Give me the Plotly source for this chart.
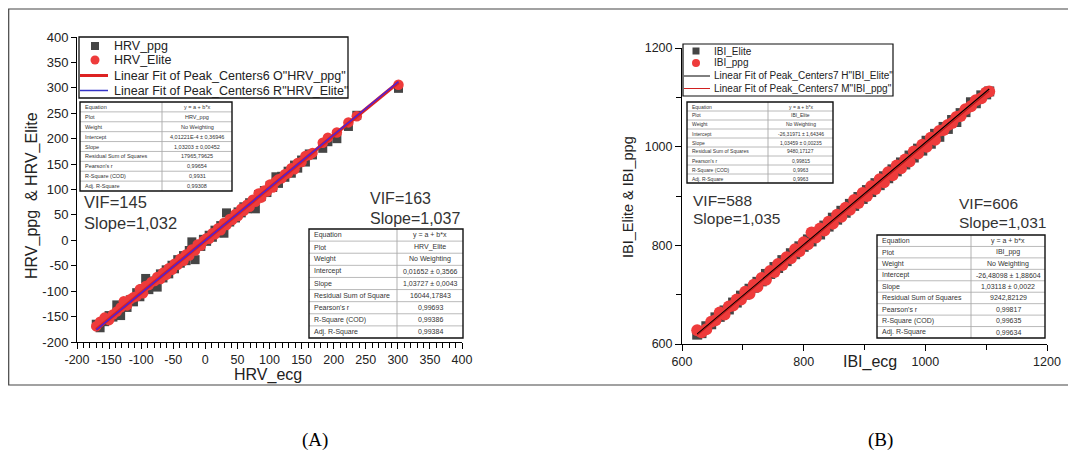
import plotly.graph_objects as go

# The page body has an 8px default margin; the figure is sized to fill the rest of the window
OFF = 8
W, H = 1076 - OFF, 455 - OFF
FONT = "Liberation Sans, Arial, sans-serif"

# ---------------- Panel A data (HRV) ----------------
hrv_ecg = [-170, -164, -157, -150, -144, -138, -132, -127, -122, -117, -112, -107, -102, -97, -93,
           -88, -84, -79, -75, -70, -66, -61, -57, -52, -48, -43, -39, -34, -30, -25, -21, -16,
           -12, -7, -3, 2, 6, 11, 15, 20, 24, 29, 33, 38, 42, 47, 51, 56, 60, 65, 69, 74, 78,
           83, 87, 92, 96, 101, 105, 110, 114, 119, 124, 129, 134, 139, 144, 150, 156, 162, 167,
           183, 191, 205, 223, 236, 301]
hrv_ppg = [-165, -172, -160, -148, -151, -127, -148, -125, -132, -117, -121, -103, -111, -95, -75,
           -97, -80, -86, -92, -66, -74, -58, -66, -49, -56, -38, -45, -30, -40, -20, -3, -38,
           -10, -12, 2, -2, 10, 6, 20, 15, 29, 14, 54, 36, 48, 44, 56, 54, 66, 62, 74, 72, 62,
           90, 86, 98, 94, 108, 104, 125, 112, 126, 124, 136, 132, 148, 142, 158, 154, 170, 168,
           181, 194, 200, 224, 246, 299]
hrv_elite = [-169, -160, -152, -157, -146, -140, -132, -120, -128, -116, -112, -110, -96, -104, -90,
             -88, -82, -80, -72, -76, -64, -68, -55, -58, -46, -48, -36, -40, -28, -30, -18, -20,
             -8, -10, -1, 4, 3, 14, 12, 24, 20, 34, 30, 42, 40, 52, 48, 62, 58, 70, 66, 80, 76,
             92, 84, 98, 96, 110, 104, 116, 120, 122, 130, 132, 142, 140, 152, 154, 166, 168, 172,
             192, 202, 212, 232, 244, 306]
hrv_fit_ppg = (4.01221e-4, 1.03203)      # intercept, slope
hrv_fit_elite = (0.01652, 1.03727)
hrv_ticks = [-200, -150, -100, -50, 0, 50, 100, 150, 200, 250, 300, 350, 400]

# ---------------- Panel B data (IBI) ----------------
ibi_ecg = [625, 632, 640, 648, 655, 662, 670, 677, 684, 690, 697, 704, 711, 718, 724, 731, 738,
           745, 752, 758, 765, 772, 779, 786, 793, 800, 807, 813, 820, 827, 834, 841, 848, 855,
           862, 869, 876, 883, 890, 897, 904, 911, 918, 925, 932, 939, 946, 953, 960, 967, 974,
           981, 988, 995, 1002, 1009, 1016, 1023, 1030, 1037, 1044, 1051, 1058, 1066, 1075, 1083,
           1092, 1100, 1105]
ibi_elite = [619, 622, 636, 640, 654, 655, 668, 670, 684, 684, 698, 700, 712, 714, 726, 727, 742,
             742, 756, 754, 770, 768, 784, 782, 798, 797, 812, 808, 826, 822, 840, 838, 856, 852,
             870, 866, 884, 880, 898, 894, 912, 908, 926, 922, 940, 936, 954, 950, 968, 964, 982,
             978, 996, 992, 1012, 1006, 1026, 1020, 1040, 1036, 1054, 1050, 1068, 1070, 1090, 1088,
             1104, 1106, 1112]
ibi_ppg = [628, 624, 630, 645, 648, 664, 660, 676, 678, 690, 690, 706, 702, 720, 716, 734, 730,
           748, 746, 762, 760, 776, 774, 792, 788, 806, 802, 826, 816, 834, 830, 848, 844, 862,
           858, 876, 872, 892, 886, 906, 900, 920, 914, 934, 928, 948, 942, 962, 956, 974, 970,
           990, 986, 1004, 1000, 1018, 1014, 1032, 1034, 1044, 1048, 1060, 1062, 1076, 1082, 1094,
           1098, 1110, 1112]
ibi_fit_elite = (-26.31971, 1.03459)
ibi_fit_ppg = (-26.48098, 1.03118)
ibi_ticks = [600, 800, 1000, 1200]

# ---------------- Fit statistics tables ----------------
tab_keys = ["Equation", "Plot", "Weight", "Intercept", "Slope", "Residual Sum of Squares",
            "Pearson's r", "R-Square (COD)", "Adj. R-Square"]
tab_keys_b = ["Equation", "Plot", "Weight", "Intercept", "Slope", "Residual Sum of Square",
              "Pearson's r", "R-Square (COD)", "Adj. R-Square"]
tab_hrv_ppg = ["y = a + b*x", "HRV_ppg", "No Weighting", "4,01221E-4 ± 0,36946",
               "1,03203 ± 0,00452", "17965,79625", "0,99654", "0,9931", "0,99308"]
tab_hrv_elite = ["y = a + b*x", "HRV_Elite", "No Weighting", "0,01652 ± 0,3566",
                 "1,03727 ± 0,0043", "16044,17843", "0,99693", "0,99386", "0,99384"]
tab_ibi_elite = ["y = a + b*x", "IBI_Elite", "No Weighting", "-26,31971 ± 1,64346",
                 "1,03459 ± 0,00235", "9480,17127", "0,99815", "0,9963", "0,9963"]
tab_ibi_ppg = ["y = a + b*x", "IBI_ppg", "No Weighting", "-26,48098 ± 1,88604",
               "1,03118 ± 0,0022", "9242,82129", "0,99817", "0,99635", "0,99634"]

GREY = "#454545"
RED_PT = "#ee3b3b"
RED_LN = "#dd2222"
BLUE_LN = "#5322d0"


def px(x):
    return (x - OFF) / W


def py(y):
    return 1 - (y - OFF) / H


fig = go.Figure()

# Panel A traces
fig.add_trace(go.Scatter(x=hrv_ecg, y=hrv_ppg, mode="markers", name="HRV_ppg",
                         marker=dict(symbol="square", size=9, color=GREY, line=dict(width=0)),
                         xaxis="x", yaxis="y"))
fig.add_trace(go.Scatter(x=hrv_ecg, y=hrv_elite, mode="markers", name="HRV_Elite",
                         marker=dict(symbol="circle", size=10.5, color=RED_PT, line=dict(width=0)),
                         xaxis="x", yaxis="y"))
xa = [min(hrv_ecg), max(hrv_ecg)]
fig.add_trace(go.Scatter(x=xa, y=[hrv_fit_ppg[0] + hrv_fit_ppg[1] * v for v in xa], mode="lines",
                         line=dict(color=RED_LN, width=3.5), xaxis="x", yaxis="y",
                         name='Linear Fit of Peak_Centers6 O"HRV_ppg"'))
fig.add_trace(go.Scatter(x=xa, y=[hrv_fit_elite[0] + hrv_fit_elite[1] * v for v in xa], mode="lines",
                         line=dict(color=BLUE_LN, width=1.6), xaxis="x", yaxis="y",
                         name='Linear Fit of Peak_Centers6 R"HRV_Elite"'))

# Panel B traces
fig.add_trace(go.Scatter(x=ibi_ecg, y=ibi_elite, mode="markers", name="IBI_Elite",
                         marker=dict(symbol="square", size=10, color=GREY, line=dict(width=0)),
                         xaxis="x2", yaxis="y2"))
fig.add_trace(go.Scatter(x=ibi_ecg, y=ibi_ppg, mode="markers", name="IBI_ppg",
                         marker=dict(symbol="circle", size=12, color=RED_PT, line=dict(width=0)),
                         xaxis="x2", yaxis="y2"))
xb = [min(ibi_ecg), max(ibi_ecg)]
fig.add_trace(go.Scatter(x=xb, y=[ibi_fit_elite[0] + ibi_fit_elite[1] * v for v in xb], mode="lines",
                         line=dict(color="black", width=1.2), xaxis="x2", yaxis="y2",
                         name='Linear Fit of Peak_Centers7 H"IBI_Elite"'))
fig.add_trace(go.Scatter(x=xb, y=[ibi_fit_ppg[0] + ibi_fit_ppg[1] * v for v in xb], mode="lines",
                         line=dict(color="#b81c1c", width=1.2), xaxis="x2", yaxis="y2",
                         name='Linear Fit of Peak_Centers7 M"IBI_ppg"'))

shapes = []
annots = []


def line(x0, y0, x1, y1, color, width):
    shapes.append(dict(type="line", xref="paper", yref="paper", x0=px(x0), y0=py(y0),
                       x1=px(x1), y1=py(y1), line=dict(color=color, width=width)))


def rect(x0, y0, x1, y1, color, width, fill="rgba(0,0,0,0)"):
    shapes.append(dict(type="rect", xref="paper", yref="paper", x0=px(x0), y0=py(y0),
                       x1=px(x1), y1=py(y1), line=dict(color=color, width=width), fillcolor=fill))


def text(x, y, s, size, xanchor="left", color="#222", family=FONT, angle=0):
    annots.append(dict(xref="paper", yref="paper", x=px(x), y=py(y), text=s, showarrow=False,
                       xanchor=xanchor, yanchor="middle", textangle=angle,
                       font=dict(family=family, size=size, color=color)))


def table(x0, y0, x1, y1, xs, keys, vals, fs):
    n = len(keys)
    rh = (y1 - y0) / n
    rect(x0, y0, x1, y1, "rgba(0,0,0,0)", 0, fill="white")
    for i in range(1, n):
        line(x0, y0 + i * rh, x1, y0 + i * rh, "#a8a8a8", 0.8)
    line(xs, y0, xs, y1, "#a8a8a8", 0.9)
    rect(x0, y0, x1, y1, "#111", 1.4)
    for i, (k, v) in enumerate(zip(keys, vals)):
        yc = y0 + (i + 0.5) * rh
        text(x0 + 2.5, yc, k, fs, "left", "#333")
        text((xs + x1) / 2, yc, v, fs, "center", "#333")


# outer frame
rect(8.7, 9, 1070, 385, "#444", 1.2)

# ---------------- legends (drawn) ----------------
rect(79, 37, 348, 98, "#111", 1.3, fill="white")
shapes.append(dict(type="rect", xref="paper", yref="paper", x0=px(91), x1=px(99), y0=py(42), y1=py(50),
                   fillcolor=GREY, line=dict(width=0)))
shapes.append(dict(type="circle", xref="paper", yref="paper", x0=px(90.5), x1=px(99.5), y0=py(55.5),
                   y1=py(64.5), fillcolor=RED_PT, line=dict(width=0)))
line(80, 75.5, 108, 75.5, RED_LN, 3)
line(80, 90.5, 108, 90.5, "#3535c8", 1.5)
text(112, 46, "HRV_ppg", 12.5)
text(112, 60, "HRV_Elite", 12.5)
text(112, 75.5, 'Linear Fit of Peak_Centers6 O"HRV_ppg"', 12.5)
text(112, 90.5, 'Linear Fit of Peak_Centers6 R"HRV_Elite"', 12.5)

rect(683, 44, 893, 96, "#111", 1.2, fill="white")
shapes.append(dict(type="rect", xref="paper", yref="paper", x0=px(692.5), x1=px(699.5), y0=py(47.5),
                   y1=py(54.5), fillcolor=GREY, line=dict(width=0)))
shapes.append(dict(type="circle", xref="paper", yref="paper", x0=px(692), x1=px(700), y0=py(59),
                   y1=py(67), fillcolor=RED_PT, line=dict(width=0)))
line(684, 76, 710, 76, "black", 1)
line(684, 88.5, 710, 88.5, "#d02020", 1)
text(712, 51, "IBI_Elite", 10)
text(712, 63, "IBI_ppg", 10)
text(712, 76, 'Linear Fit of Peak_Centers7 H"IBI_Elite"', 10)
text(712, 88.5, 'Linear Fit of Peak_Centers7 M"IBI_ppg"', 10)

# ---------------- tables ----------------
table(80, 102, 232, 191, 162, tab_keys, tab_hrv_ppg, 5.5)
table(309, 229, 463, 338, 397, tab_keys_b, tab_hrv_elite, 7)
table(687, 102, 833, 183, 768, tab_keys, tab_ibi_elite, 5)
table(877, 235, 1045, 338, 971, tab_keys, tab_ibi_ppg, 7)

# ---------------- VIF / slope labels ----------------
text(82, 202, "VIF=145", 16.5, color="#333")
text(82, 223, "Slope=1,032", 16.5, color="#333")
text(368, 198, "VIF=163", 16, color="#333")
text(368, 218, "Slope=1,037", 16, color="#333")
text(691, 200, "VIF=588", 15.5, color="#333")
text(691, 218, "Slope=1,035", 15.5, color="#333")
text(957, 204, "VIF=606", 15.5, color="#333")
text(957, 223, "Slope=1,031", 15.5, color="#333")

# ---------------- axis titles ----------------
text(268, 375, "HRV_ecg", 16, "center", "#222")
text(32, 196, "HRV_ppg  & HRV_Elite", 16, "center", "#222", angle=-90)
text(870, 362, "IBI_ecg", 16, "center", "#222")
text(628, 197, "IBI_Elite & IBI_ppg", 14.5, "center", "#222", angle=-90)

# ---------------- captions ----------------
text(315, 440, "(A)", 19, "center", "black", family="Liberation Serif, Times New Roman, serif")
text(880, 440, "(B)", 19, "center", "black", family="Liberation Serif, Times New Roman, serif")

axis_common = dict(showgrid=False, zeroline=False, showline=True, linecolor="black", linewidth=1,
                   ticks="outside", tickcolor="black", tickwidth=1, mirror=False,
                   automargin=False, tickangle=0, tickmode="array")

hrv_labels = [str(v) for v in hrv_ticks]
ibi_labels = [str(v) for v in ibi_ticks]

fig.update_layout(
    template="none",
    width=W, height=H, autosize=False,
    margin=dict(l=0, r=0, t=0, b=0, pad=0),
    paper_bgcolor="white", plot_bgcolor="white",
    showlegend=False,
    xaxis=dict(domain=[px(77), px(462)], range=[-200, 400], tickvals=hrv_ticks, ticktext=hrv_labels,
               ticklen=6, minor=dict(dtick=10, tick0=0, ticklen=5, ticks="outside", tickcolor="black"),
               anchor="y", tickfont=dict(family=FONT, color="#222", size=12.5), **axis_common),
    yaxis=dict(domain=[py(342), py(37)], range=[-200, 400], tickvals=hrv_ticks, ticktext=hrv_labels,
               ticklen=5, anchor="x", tickfont=dict(family=FONT, color="#222", size=13), **axis_common),
    xaxis2=dict(domain=[px(682), px(1047)], range=[600, 1200], tickvals=ibi_ticks, ticktext=ibi_labels,
                ticklen=6, minor=dict(dtick=100, tick0=600, ticklen=5, ticks="outside", tickcolor="black"),
                anchor="y2", tickfont=dict(family=FONT, color="#222", size=12.5), **axis_common),
    yaxis2=dict(domain=[py(344), py(48)], range=[600, 1200], tickvals=ibi_ticks, ticktext=ibi_labels,
                ticklen=6, minor=dict(dtick=100, tick0=600, ticklen=5, ticks="outside", tickcolor="black"),
                anchor="x2", tickfont=dict(family=FONT, color="#222", size=12.5), **axis_common),
    shapes=shapes,
    annotations=annots,
)

fig.write_html("out.html")
